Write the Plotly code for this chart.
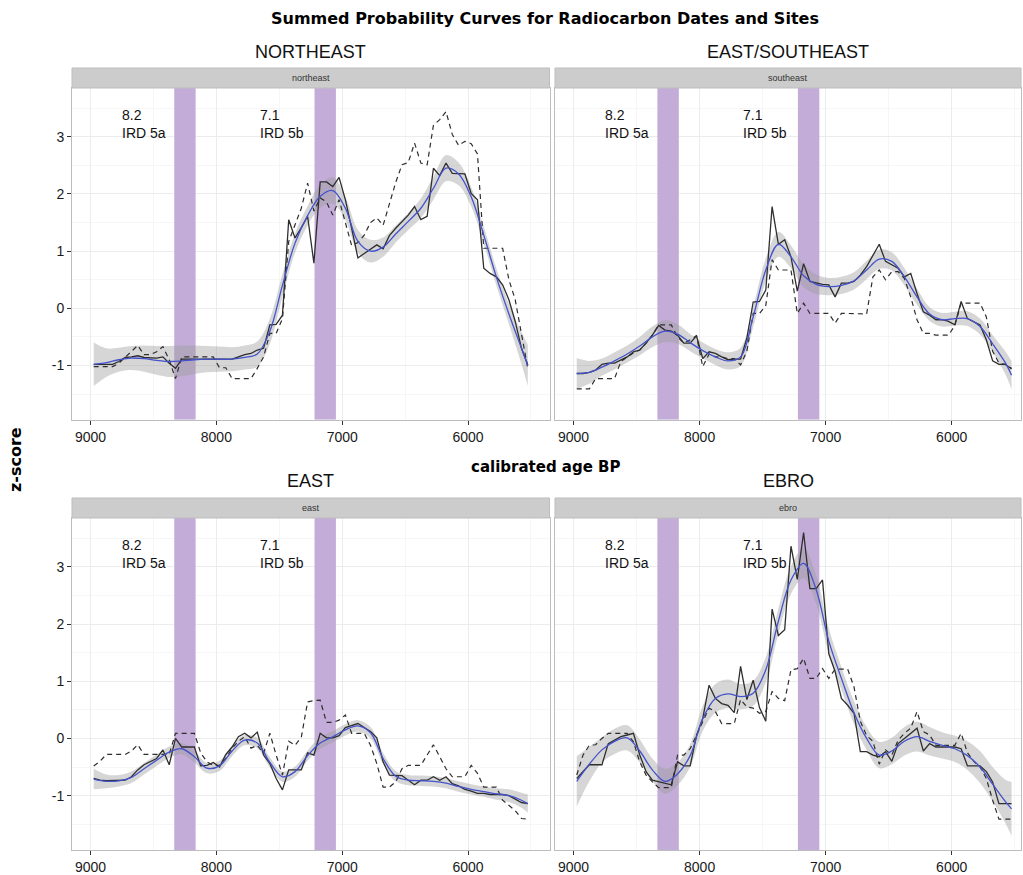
import plotly.graph_objects as go

# ---------------- data (calibrated age BP, z-scores) ----------------
YEARS = [8975, 8925, 8875, 8825, 8775, 8725, 8675, 8625, 8575, 8525,
         8475, 8425, 8375, 8325, 8275, 8225, 8175, 8125, 8075, 8025,
         7975, 7925, 7875, 7825, 7775, 7725, 7675, 7625, 7575, 7525,
         7475, 7425, 7375, 7325, 7275, 7225, 7175, 7125, 7075, 7025,
         6975, 6925, 6875, 6825, 6775, 6725, 6675, 6625, 6575, 6525,
         6475, 6425, 6375, 6325, 6275, 6225, 6175, 6125, 6075, 6025,
         5975, 5925, 5875, 5825, 5775, 5725, 5675, 5625, 5575, 5525]

SMOOTH_YEARS = [8975, 8875, 8775, 8675, 8575, 8475, 8375, 8275, 8175, 8075,
                7975, 7875, 7775, 7675, 7575, 7475, 7375, 7275, 7175, 7075,
                6975, 6875, 6775, 6675, 6575, 6475, 6375, 6275, 6175, 6075,
                5975, 5875, 5775, 5675, 5575, 5525]

NE_DATES = [-0.98, -0.98, -0.98, -0.98, -0.93, -0.86, -0.85, -0.83, -0.86, -0.86,
            -0.87, -0.85, -0.96, -1.05, -0.89, -0.89, -0.89, -0.89, -0.89, -0.89,
            -0.89, -0.89, -0.89, -0.85, -0.81, -0.79, -0.73, -0.70, -0.29, -0.28,
            -0.12, 1.55, 1.23, 1.41, 1.61, 0.79, 2.21, 2.21, 2.13, 2.29,
            1.90, 1.40, 0.88, 0.96, 1.04, 1.11, 1.04, 1.27, 1.40, 1.51,
            1.63, 1.78, 1.55, 1.61, 2.45, 2.32, 2.54, 2.36, 2.36, 2.35,
            2.01, 1.90, 0.70, 0.61, 0.55, 0.41, 0.15, -0.23, -0.70, -0.99]
NE_SITES = [-1.02, -1.02, -1.02, -1.02, -0.96, -0.86, -0.76, -0.65, -0.81, -0.81,
            -0.76, -0.67, -0.90, -1.23, -0.85, -0.85, -0.85, -0.85, -0.85, -0.85,
            -1.04, -1.04, -1.23, -1.23, -1.23, -1.23, -1.05, -0.85, -0.44, -0.44,
            -0.18, 1.17, 1.46, 1.75, 2.19, 1.70, 1.93, 1.86, 1.63, 1.90,
            1.50, 1.10, 1.15, 1.28, 1.50, 1.58, 1.45, 1.81, 2.20, 2.51,
            2.55, 2.89, 2.54, 2.51, 3.20, 3.30, 3.44, 3.04, 2.85, 2.92,
            2.88, 2.70, 1.05, 1.05, 1.05, 1.05, 0.50, 0.15, -0.45, -1.05]
NE_SMOOTH = [-0.98, -0.95, -0.90, -0.87, -0.88, -0.91, -0.93, -0.92, -0.90, -0.89,
             -0.89, -0.89, -0.86, -0.80, -0.40, 0.40, 1.14, 1.62, 1.96, 2.06,
             1.75, 1.17, 1.00, 1.07, 1.30, 1.52, 1.75, 2.10, 2.45, 2.35,
             1.95, 1.28, 0.55, -0.10, -0.70, -1.00]
NE_SE = [0.38, 0.25, 0.21, 0.21, 0.23, 0.25, 0.27, 0.27, 0.25, 0.23,
         0.22, 0.21, 0.21, 0.22, 0.22, 0.20, 0.17, 0.17, 0.20, 0.23,
         0.20, 0.20, 0.20, 0.17, 0.15, 0.15, 0.17, 0.20, 0.23, 0.20,
         0.17, 0.15, 0.15, 0.18, 0.28, 0.36]

SE_DATES = [-1.14, -1.14, -1.12, -1.08, -0.98, -0.96, -0.96, -0.90, -0.85, -0.76,
            -0.73, -0.61, -0.47, -0.30, -0.38, -0.40, -0.47, -0.61, -0.61, -0.48,
            -0.88, -0.76, -0.79, -0.85, -0.90, -0.89, -0.89, -0.52, 0.11, 0.12,
            0.32, 1.78, 1.12, 1.20, 0.90, 0.30, 0.78, 0.47, 0.44, 0.42,
            0.41, 0.20, 0.44, 0.44, 0.47, 0.58, 0.73, 0.93, 1.12, 0.82,
            0.76, 0.70, 0.55, 0.61, 0.26, -0.06, -0.12, -0.20, -0.20, -0.23,
            -0.29, 0.12, -0.18, -0.23, -0.29, -0.55, -0.92, -0.98, -0.98, -1.06]
SE_SITES = [-1.41, -1.41, -1.41, -1.23, -1.23, -1.23, -1.23, -0.93, -0.85, -0.78,
            -0.73, -0.61, -0.47, -0.29, -0.29, -0.29, -0.50, -0.61, -0.55, -0.48,
            -1.02, -0.80, -0.85, -0.85, -0.88, -0.88, -0.99, -0.75, -0.09, -0.09,
            0.05, 0.85, 0.67, 0.67, 0.67, -0.09, 0.09, -0.09, -0.09, -0.09,
            -0.09, -0.26, -0.09, -0.09, -0.09, -0.09, -0.10, 0.55, 0.67, 0.50,
            0.64, 0.64, 0.52, 0.20, -0.20, -0.44, -0.44, -0.47, -0.47, -0.47,
            -0.30, 0.09, 0.09, 0.09, 0.09, -0.15, -0.75, -0.96, -0.98, -1.05]
SE_SMOOTH = [-1.14, -1.12, -1.03, -0.92, -0.80, -0.66, -0.50, -0.40, -0.45, -0.60,
             -0.74, -0.85, -0.92, -0.85, -0.15, 0.67, 1.12, 0.90, 0.57, 0.42,
             0.38, 0.40, 0.48, 0.67, 0.86, 0.82, 0.55, 0.20, -0.10, -0.20,
             -0.18, -0.18, -0.32, -0.62, -0.95, -1.17]
SE_SE = [0.27, 0.20, 0.15, 0.15, 0.15, 0.16, 0.18, 0.19, 0.17, 0.15,
         0.14, 0.14, 0.15, 0.16, 0.18, 0.20, 0.22, 0.20, 0.20, 0.17,
         0.15, 0.15, 0.15, 0.16, 0.17, 0.16, 0.15, 0.14, 0.12, 0.12,
         0.12, 0.13, 0.14, 0.15, 0.20, 0.25]

EAST_DATES = [-0.70, -0.73, -0.74, -0.74, -0.74, -0.73, -0.67, -0.55, -0.46, -0.40,
              -0.35, -0.20, -0.46, 0.00, -0.15, -0.15, -0.15, -0.48, -0.47, -0.42,
              -0.50, -0.28, -0.15, 0.03, 0.09, 0.01, 0.11, -0.29, -0.44, -0.70,
              -0.90, -0.55, -0.55, -0.55, -0.25, -0.29, 0.09, 0.01, 0.01, 0.05,
              0.19, 0.22, 0.26, 0.19, 0.12, 0.01, -0.41, -0.64, -0.64, -0.65,
              -0.73, -0.81, -0.73, -0.73, -0.67, -0.73, -0.67, -0.79, -0.83, -0.89,
              -0.92, -0.96, -0.96, -0.98, -0.98, -0.98, -1.00, -1.06, -1.12, -1.14]
EAST_SITES = [-0.48, -0.40, -0.28, -0.28, -0.28, -0.28, -0.22, -0.11, -0.28, -0.28,
              -0.28, -0.28, -0.28, 0.09, 0.09, 0.09, 0.09, -0.25, -0.41, -0.47,
              -0.47, -0.35, -0.17, -0.05, 0.03, -0.17, -0.12, -0.26, 0.09, -0.29,
              -0.64, -0.05, -0.12, 0.02, 0.64, 0.66, 0.67, 0.28, 0.28, 0.32,
              0.41, 0.09, 0.09, 0.09, -0.12, -0.44, -0.85, -0.85, -0.76, -0.53,
              -0.47, -0.47, -0.47, -0.29, -0.11, -0.32, -0.53, -0.67, -0.67, -0.67,
              -0.47, -0.61, -0.85, -0.85, -0.85, -1.08, -1.17, -1.26, -1.40, -1.41]
EAST_SMOOTH = [-0.71, -0.75, -0.74, -0.68, -0.53, -0.38, -0.24, -0.18, -0.32, -0.52,
               -0.48, -0.22, -0.03, -0.08, -0.42, -0.67, -0.58, -0.30, -0.08, 0.03,
               0.15, 0.22, 0.10, -0.35, -0.66, -0.73, -0.74, -0.75, -0.78, -0.84,
               -0.89, -0.93, -0.97, -1.00, -1.08, -1.14]
EAST_SE = [0.18, 0.12, 0.10, 0.10, 0.10, 0.10, 0.10, 0.10, 0.10, 0.09,
           0.09, 0.09, 0.09, 0.09, 0.09, 0.09, 0.09, 0.09, 0.10, 0.10,
           0.10, 0.10, 0.10, 0.10, 0.09, 0.09, 0.09, 0.09, 0.09, 0.09,
           0.09, 0.09, 0.10, 0.11, 0.13, 0.16]

EBRO_DATES = [-0.70, -0.58, -0.46, -0.46, -0.46, -0.09, -0.03, 0.03, 0.06, 0.09,
              -0.29, -0.58, -0.73, -0.76, -0.79, -0.81, -0.41, -0.48, -0.48, 0.05,
              0.35, 0.93, 0.70, 0.61, 0.58, 0.45, 1.26, 0.68, 1.02, 0.54,
              0.30, 2.26, 1.80, 1.90, 3.36, 2.78, 3.60, 2.62, 2.62, 2.77,
              1.48, 1.17, 0.70, 0.58, 0.44, -0.23, -0.23, -0.29, -0.32, -0.23,
              -0.40, -0.09, 0.00, 0.09, 0.18, -0.22, -0.09, -0.15, -0.15, -0.15,
              -0.15, -0.18, -0.48, -0.48, -0.48, -0.58, -0.76, -1.14, -1.14, -1.14]
EBRO_SITES = [-0.64, -0.29, -0.12, -0.11, 0.00, 0.09, 0.09, 0.09, 0.09, -0.06,
              -0.41, -0.64, -0.76, -0.86, -0.86, -0.86, -0.29, -0.29, -0.18, 0.06,
              0.29, 0.53, 0.47, 0.26, 0.26, 0.26, 0.68, 0.55, 0.53, 0.44,
              0.47, 0.82, 0.70, 0.66, 1.20, 1.22, 1.40, 1.05, 1.05, 1.22,
              1.05, 1.21, 1.21, 1.21, 0.90, 0.30, 0.05, -0.05, -0.45, -0.20,
              -0.29, -0.03, 0.09, 0.18, 0.47, 0.12, 0.06, -0.12, -0.12, -0.12,
              -0.12, 0.09, -0.25, -0.40, -0.50, -0.70, -1.08, -1.41, -1.41, -1.41]
EBRO_SMOOTH = [-0.75, -0.45, -0.20, -0.05, 0.01, -0.22, -0.55, -0.75, -0.62, -0.30,
               0.35, 0.70, 0.78, 0.73, 0.79, 1.20, 2.05, 2.77, 3.06, 2.60,
               1.70, 1.05, 0.45, 0.00, -0.29, -0.22, -0.05, 0.03, -0.05, -0.12,
               -0.18, -0.30, -0.50, -0.80, -1.10, -1.23]
EBRO_SE = [0.44, 0.30, 0.22, 0.22, 0.22, 0.20, 0.20, 0.22, 0.20, 0.20,
           0.22, 0.25, 0.25, 0.22, 0.22, 0.22, 0.22, 0.24, 0.26, 0.25,
           0.22, 0.20, 0.20, 0.20, 0.23, 0.23, 0.25, 0.26, 0.25, 0.23,
           0.23, 0.25, 0.28, 0.30, 0.38, 0.47]

EVENT_BANDS = [(8335, 8165), (7220, 7050)]
EVENT_LABELS = [(8770, "8.2<br>IRD 5a"), (7670, "7.1<br>IRD 5b")]
X_TICKS = [9000, 8000, 7000, 6000]
X_MINOR = [8500, 7500, 6500, 5500]
Y_TICKS = [-1, 0, 1, 2, 3]
Y_MINOR = [-1.5, -0.5, 0.5, 1.5, 2.5, 3.5]
Y_RANGE = [-1.95, 3.853]

PANELS = [
    dict(title="NORTHEAST", strip="northeast", dates=NE_DATES, sites=NE_SITES,
         smooth=NE_SMOOTH, se=NE_SE),
    dict(title="EAST/SOUTHEAST", strip="southeast", dates=SE_DATES, sites=SE_SITES,
         smooth=SE_SMOOTH, se=SE_SE),
    dict(title="EAST", strip="east", dates=EAST_DATES, sites=EAST_SITES,
         smooth=EAST_SMOOTH, se=EAST_SE),
    dict(title="EBRO", strip="ebro", dates=EBRO_DATES, sites=EBRO_SITES,
         smooth=EBRO_SMOOTH, se=EBRO_SE),
]

# ---------------- layout geometry (pixels in a 1023 x 875 page) ----------------
W, H = 1023, 875
COLS = [(72, 549.5, [9147.5, 5352.5]), (555, 1021, [9147.5, 5450])]
ROWS = [(88, 419.8, 68, 52), (518, 850, 498, 481)]   # panel top, bottom, strip top, title y


def px(x):
    return x / W


def py(y):
    return 1 - y / H


fig = go.Figure()
shapes = []
annotations = []

for i, p in enumerate(PANELS):
    r, c = divmod(i, 2)
    x0, x1, xr = COLS[c]
    top, bot, strip_top, title_y = ROWS[r]
    n = i + 1
    xa = "x" if n == 1 else f"x{n}"
    ya = "y" if n == 1 else f"y{n}"

    # event bands (drawn first so gridlines are hidden and the ribbon darkens them)
    for b0, b1 in EVENT_BANDS:
        fig.add_trace(go.Scatter(x=[b0, b0, b1, b1, b0],
                                 y=[Y_RANGE[0], Y_RANGE[1], Y_RANGE[1], Y_RANGE[0], Y_RANGE[0]],
                                 xaxis=xa, yaxis=ya, mode="lines", fill="toself",
                                 fillcolor="#c3add8", line=dict(width=0),
                                 hoverinfo="skip", showlegend=False))

    lower = [m - s for m, s in zip(p["smooth"], p["se"])]
    upper = [m + s for m, s in zip(p["smooth"], p["se"])]

    fig.add_trace(go.Scatter(x=SMOOTH_YEARS, y=lower, xaxis=xa, yaxis=ya, mode="lines",
                             line=dict(width=0, shape="spline"), hoverinfo="skip",
                             showlegend=False))
    fig.add_trace(go.Scatter(x=SMOOTH_YEARS, y=upper, xaxis=xa, yaxis=ya, mode="lines",
                             line=dict(width=0, shape="spline"), fill="tonexty",
                             fillcolor="rgba(153,153,153,0.4)", hoverinfo="skip",
                             showlegend=False))
    fig.add_trace(go.Scatter(x=YEARS, y=p["dates"], xaxis=xa, yaxis=ya, mode="lines",
                             line=dict(color="#2e2e2e", width=1.3), showlegend=False))
    fig.add_trace(go.Scatter(x=YEARS, y=p["sites"], xaxis=xa, yaxis=ya, mode="lines",
                             line=dict(color="#2e2e2e", width=1.2, dash="5px,4px"),
                             showlegend=False))
    fig.add_trace(go.Scatter(x=SMOOTH_YEARS, y=p["smooth"], xaxis=xa, yaxis=ya, mode="lines",
                             line=dict(color="#4452cc", width=1.3, shape="spline"),
                             showlegend=False))

    axis_common = dict(showline=True, mirror=True, linecolor="#bdbdbd", linewidth=1,
                       zeroline=False, showgrid=True, gridcolor="#ececec", gridwidth=1)
    fig.update_layout(**{
        ("xaxis" if n == 1 else f"xaxis{n}"): dict(
            domain=[px(x0), px(x1)], anchor=ya, range=xr,
            tickmode="array", tickvals=X_TICKS, ticktext=[str(v) for v in X_TICKS],
            ticks="outside", ticklen=4, tickcolor="#333333",
            tickfont=dict(family="Liberation Sans, Arial", size=14, color="#1a1a1a"),
            minor=dict(tickmode="array", tickvals=X_MINOR, showgrid=True,
                       gridcolor="#f6f6f6", ticks=""),
            **axis_common),
        ("yaxis" if n == 1 else f"yaxis{n}"): dict(
            domain=[py(bot), py(top)], anchor=xa, range=Y_RANGE,
            tickmode="array", tickvals=Y_TICKS, ticktext=[str(v) for v in Y_TICKS],
            ticks="outside" if c == 0 else "", ticklen=4, tickcolor="#333333",
            showticklabels=(c == 0),
            tickfont=dict(family="Liberation Sans, Arial", size=14, color="#1a1a1a"),
            minor=dict(tickmode="array", tickvals=Y_MINOR, showgrid=True,
                       gridcolor="#f6f6f6", ticks=""),
            **axis_common),
    })

    for lx, txt in EVENT_LABELS:
        annotations.append(dict(xref=xa, yref=ya, x=lx, y=3.22, text=txt, showarrow=False,
                                xanchor="left", yanchor="middle", align="left",
                                font=dict(family="Liberation Sans, Arial", size=14,
                                          color="#111111")))

    # strip
    shapes.append(dict(type="rect", xref="paper", yref="paper", x0=px(x0), x1=px(x1),
                       y0=py(top), y1=py(strip_top), fillcolor="#cccccc",
                       line=dict(color="#bdbdbd", width=1), layer="above"))
    annotations.append(dict(xref="paper", yref="paper", x=px((x0 + x1) / 2),
                            y=py((top + strip_top) / 2), text=p["strip"], showarrow=False,
                            xanchor="center", yanchor="middle",
                            font=dict(family="Liberation Sans, Arial", size=9,
                                      color="#333333")))
    # panel title
    annotations.append(dict(xref="paper", yref="paper", x=px((x0 + x1) / 2),
                            y=py(title_y), text=p["title"], showarrow=False,
                            xanchor="center", yanchor="middle",
                            font=dict(family="Liberation Sans, Arial", size=18,
                                      color="#111111")))

annotations.append(dict(xref="paper", yref="paper", x=px(545), y=py(18),
                        text="<b>Summed Probability Curves for Radiocarbon Dates and Sites</b>",
                        showarrow=False, xanchor="center", yanchor="middle",
                        font=dict(family="DejaVu Sans", size=16, color="#000000")))
annotations.append(dict(xref="paper", yref="paper", x=px(546), y=py(467),
                        text="<b>calibrated age BP</b>", showarrow=False,
                        xanchor="center", yanchor="middle",
                        font=dict(family="DejaVu Sans", size=15, color="#000000")))
annotations.append(dict(xref="paper", yref="paper", x=px(15), y=py(460),
                        text="<b>z-score</b>", showarrow=False, textangle=-90,
                        xanchor="center", yanchor="middle",
                        font=dict(family="DejaVu Sans", size=16, color="#000000")))

fig.update_layout(width=W, height=H, margin=dict(l=0, r=0, t=0, b=0),
                  paper_bgcolor="white", plot_bgcolor="white", showlegend=False,
                  shapes=shapes, annotations=annotations, hovermode=False)

fig.write_html("out.html")
